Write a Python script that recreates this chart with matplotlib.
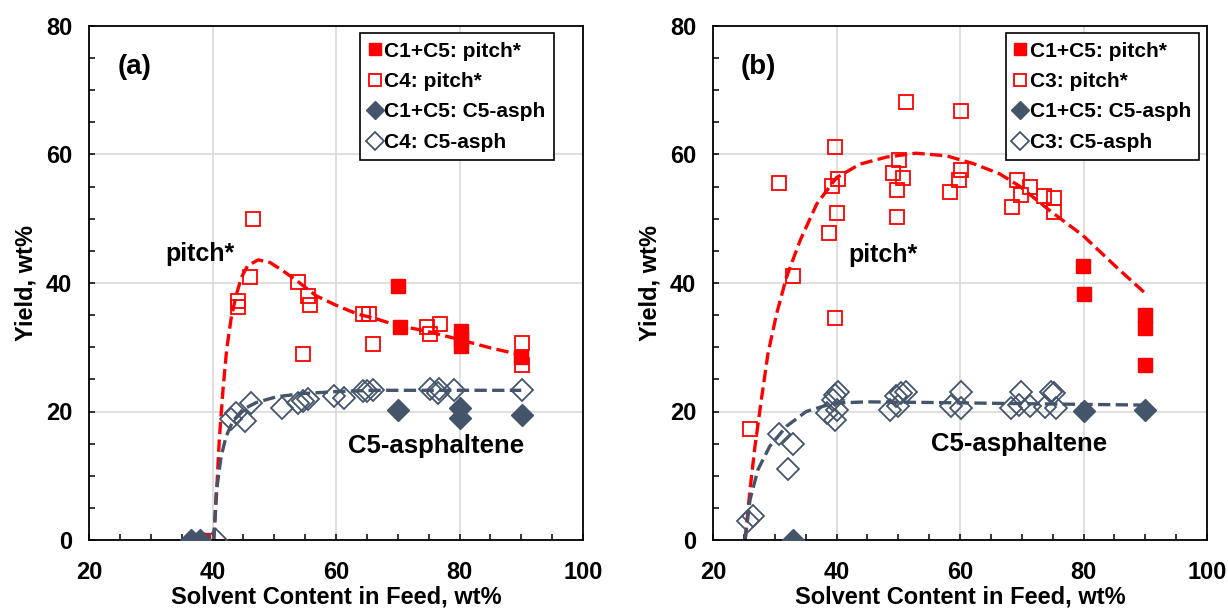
import numpy as np
import matplotlib.pyplot as plt

plt.rcParams['font.family'] = ['Liberation Sans', 'DejaVu Sans']
plt.rcParams['font.weight'] = 'bold'

RED = '#FF0000'
NAVY = '#44546A'

# ---- panel (a) data ----
a_c15_pitch_x = [37.6, 38.4, 70.1, 70.3, 80.2, 80.2, 80.2, 90.0]
a_c15_pitch_y = [0, 0, 39.6, 33.2, 32.5, 31.3, 30.2, 28.5]
a_c4_pitch_x = [44.1, 44.1, 46.0, 46.5, 53.9, 55.5, 55.8, 54.6, 64.4, 65.4,
                66.0, 74.7, 75.3, 76.8, 90.2, 90.2]
a_c4_pitch_y = [37.2, 36.2, 40.9, 50.0, 40.1, 38.0, 36.6, 28.9, 35.2, 35.2,
                30.5, 33.1, 32.0, 33.6, 30.7, 27.2]
a_c15_asph_x = [36.5, 37.9, 70.1, 80.0, 80.0, 90.1]
a_c15_asph_y = [0, 0, 20.2, 20.5, 19.0, 19.5]
a_c4_asph_x = [40.5, 43.0, 43.8, 45.2, 46.3, 51.3, 53.9, 54.7, 55.5, 59.7,
               61.3, 64.4, 65.0, 66.0, 75.3, 76.7, 76.5, 79.1, 90.2]
a_c4_asph_y = [0, 18.8, 19.7, 18.5, 21.4, 20.5, 21.4, 21.6, 22.0, 22.4,
               22.1, 23.2, 23.2, 23.4, 23.5, 23.5, 22.9, 23.4, 23.4]
a_fit_pitch_x = [40.2, 40.6, 41.1, 41.7, 42.3, 43.0, 43.8, 44.7, 45.7, 47.4,
                 49.3, 51.4, 53.6, 56.8, 60.1, 63.4, 66.6, 69.9, 74.2, 79.6,
                 85.0, 90.0]
a_fit_pitch_y = [0, 6.3, 15.6, 23.4, 29.7, 34.4, 38.0, 40.9, 42.7, 43.6,
                 43.2, 41.9, 40.4, 38.0, 36.5, 35.2, 34.4, 33.4, 32.6, 31.3,
                 29.9, 28.8]
a_fit_asph_x = [40.2, 40.6, 41.4, 42.2, 43.3, 44.9, 47.1, 50.4, 54.7, 60.1,
                66.3, 90.0]
a_fit_asph_y = [0, 7.3, 13.0, 16.1, 18.5, 20.3, 21.4, 22.3, 22.8, 23.1,
                23.3, 23.3]

# ---- panel (b) data ----
b_c15_pitch_x = [79.9, 80.1, 90.0, 90.0, 90.0]
b_c15_pitch_y = [42.7, 38.3, 35.0, 33.0, 27.3]
b_c3_pitch_x = [51.3, 60.2, 39.7, 30.7, 39.2, 40.3, 49.1, 50.2, 50.7, 49.8,
                49.8, 40.0, 38.8, 32.9, 39.7, 26.0, 60.2, 59.9, 58.4, 69.3,
                71.3, 69.9, 68.4, 73.6, 75.3, 75.3]
b_c3_pitch_y = [68.2, 66.7, 61.2, 55.6, 55.1, 56.2, 57.1, 59.1, 56.3, 54.4,
                50.3, 50.9, 47.8, 41.1, 34.6, 17.3, 57.6, 56.1, 54.1, 56.1,
                55.0, 53.7, 51.8, 53.6, 53.3, 51.1]
b_c15_asph_x = [33.0, 80.1, 90.0]
b_c15_asph_y = [0, 20.1, 20.3]
b_c3_asph_x = [25.7, 26.5, 30.7, 32.9, 32.2, 39.7, 40.3, 39.5, 38.4, 40.0,
               39.7, 49.7, 50.5, 51.3, 48.6, 50.0, 60.2, 58.6, 60.2, 69.9,
               68.3, 69.6, 71.3, 74.8, 75.3, 73.7, 75.5]
b_c3_asph_y = [2.9, 3.7, 16.5, 15.0, 11.1, 22.6, 23.1, 21.8, 19.7, 20.3,
               18.6, 22.4, 22.9, 23.1, 20.3, 20.8, 23.1, 20.8, 20.5, 23.1,
               20.6, 21.0, 20.8, 23.1, 22.9, 20.7, 20.5]
b_fit_pitch_x = [25.2, 26.0, 26.8, 27.9, 28.9, 30.3, 31.9, 34.1, 36.8, 40.0,
                 43.8, 48.1, 52.9, 57.8, 62.1, 66.4, 69.6, 74.5, 79.9, 85.3,
                 90.0]
b_fit_pitch_y = [0, 7.9, 14.6, 22.3, 29.0, 35.2, 40.9, 46.6, 52.3, 56.4,
                 58.5, 59.6, 60.2, 59.8, 58.6, 57.0, 55.1, 51.3, 47.4, 42.5,
                 38.4]
b_fit_asph_x = [25.2, 26.0, 27.3, 29.2, 31.9, 35.1, 39.5, 44.9, 55.6, 71.8,
                90.0]
b_fit_asph_y = [0, 6.3, 11.0, 14.6, 17.7, 20.0, 21.3, 21.5, 21.4, 21.2,
                21.0]

fig = plt.figure(figsize=(12.28, 6.10), dpi=100)
ax1 = fig.add_axes([89 / 1228, 1 - 540 / 610, (583 - 89) / 1228, (540 - 26) / 610])
ax2 = fig.add_axes([713 / 1228, 1 - 540 / 610, (1207 - 713) / 1228, (540 - 26) / 610])


def draw(ax, fp, fa, c15p, opp, c15a, opa, solvent, tag, pitch_pos, asph_pos, leg_x):
    ax.plot(fp[0], fp[1], '--', color=RED, lw=2.4, zorder=2)
    ax.plot(fa[0], fa[1], '--', color=NAVY, lw=2.4, zorder=2)
    ax.plot(c15p[0], c15p[1], 's', color=RED, ms=10.5, ls='none', zorder=3,
            label='C1+C5: pitch*')
    ax.plot(opp[0], opp[1], 's', mfc='none', mec=RED, mew=1.3, ms=10.5, ls='none',
            zorder=3, label=f'{solvent}: pitch*')
    ax.plot(c15a[0], c15a[1], 'D', color=NAVY, ms=11.5, ls='none', zorder=3,
            label='C1+C5: C5-asph')
    ax.plot(opa[0], opa[1], 'D', mfc='none', mec=NAVY, mew=1.3, ms=11.5, ls='none',
            zorder=3, label=f'{solvent}: C5-asph')

    ax.set_xlim(20, 100)
    ax.set_ylim(0, 80)
    ax.set_xticks([20, 40, 60, 80, 100])
    ax.set_yticks([0, 20, 40, 60, 80])
    ax.set_xticks(np.arange(20, 101, 5), minor=True)
    ax.set_yticks(np.arange(0, 81, 5), minor=True)
    ax.grid(True, which='major', color='#d9d9d9', lw=1.2, zorder=0)
    ax.set_axisbelow(True)
    ax.tick_params(which='both', direction='in', length=4, width=1.1,
                   top=False, right=False, labelsize=17)
    ax.tick_params(axis='x', which='both', pad=15)
    ax.tick_params(axis='y', which='both', pad=12)
    for lab in ax.get_xticklabels() + ax.get_yticklabels():
        lab.set_fontweight('bold')
    for sp in ax.spines.values():
        sp.set_linewidth(1.3)
    ax.set_xlabel('Solvent Content in Feed, wt%', fontsize=17, fontweight='bold', labelpad=1)
    ax.set_ylabel('Yield, wt%', fontsize=17, fontweight='bold', labelpad=6)

    ax.text(27.3, 73.6, tag, fontsize=20, fontweight='bold', ha='center', va='center')
    ax.text(pitch_pos[0], pitch_pos[1], 'pitch*', fontsize=18, fontweight='bold',
            ha='center', va='center')
    ax.text(asph_pos[0], asph_pos[1], 'C5-asphaltene', fontsize=18.5, fontweight='bold',
            ha='center', va='center')

    leg = ax.legend(loc='upper right', bbox_to_anchor=(leg_x, 0.986),
                    prop={'weight': 'bold', 'size': 15}, handlelength=0.6,
                    handletextpad=0.15, labelspacing=0.55, borderpad=0.4,
                    markerscale=0.8, fancybox=False, framealpha=1,
                    edgecolor='black', borderaxespad=0)
    leg.get_frame().set_linewidth(1.2)


draw(ax1, (a_fit_pitch_x, a_fit_pitch_y), (a_fit_asph_x, a_fit_asph_y),
     (a_c15_pitch_x, a_c15_pitch_y), (a_c4_pitch_x, a_c4_pitch_y),
     (a_c15_asph_x, a_c15_asph_y), (a_c4_asph_x, a_c4_asph_y),
     'C4', '(a)', (37.9, 44.5), (76.2, 14.6), 0.941)
draw(ax2, (b_fit_pitch_x, b_fit_pitch_y), (b_fit_asph_x, b_fit_asph_y),
     (b_c15_pitch_x, b_c15_pitch_y), (b_c3_pitch_x, b_c3_pitch_y),
     (b_c15_asph_x, b_c15_asph_y), (b_c3_asph_x, b_c3_asph_y),
     'C3', '(b)', (47.5, 44.4), (69.6, 15.0), 0.984)

fig.savefig('out.png', dpi=100)
